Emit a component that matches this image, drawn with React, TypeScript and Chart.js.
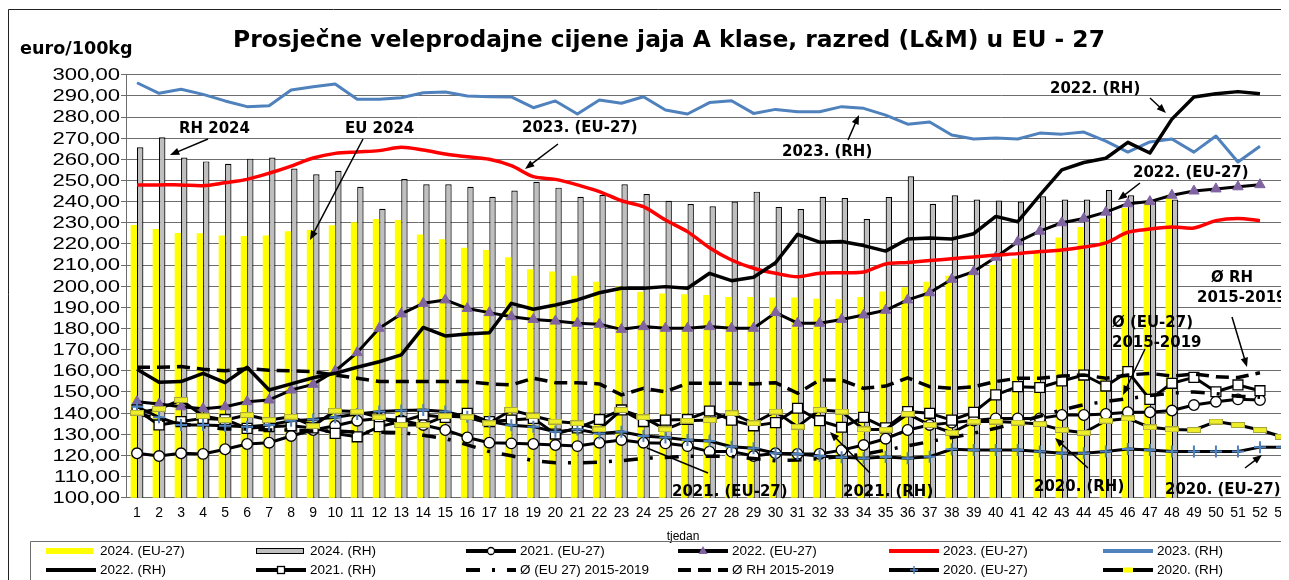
import React, { useEffect, useRef } from 'react';
import { Chart, registerables } from 'chart.js';
Chart.register(...registerables);

const weeks = ['1','2','3','4','5','6','7','8','9','10','11','12','13','14','15','16','17','18','19','20','21','22','23','24','25','26','27','28','29','30','31','32','33','34','35','36','37','38','39','40','41','42','43','44','45','46','47','48','49','50','51','52','53'];

const eu2024 = [228.9,227,225.2,225,224,223.7,224,226,226.6,228.8,230.2,231.8,231.3,224.5,222.2,218.2,217.1,213.7,208,206.9,205,202.1,199.8,197.4,196.6,196.2,195.8,194.9,194.9,194.6,194.6,194.1,193.8,194.9,197.5,199.5,202.1,205,207,210,213,217,223,228,232,237,240,243,null,null,null,null,null];
const rh2024 = [265.7,270.4,260.8,259,257.9,260.3,260.8,255.6,252.9,254.6,247,236.6,250.7,248.2,248.2,247,242.3,245.2,249.4,246.6,242.3,243.1,248.2,243.6,240.4,238.9,237.8,240,244.7,237.5,236.5,242.3,241.7,231.8,242.2,252,239,243,241,240.5,240,242.5,241,241,245.5,243,241,241,null,null,null,null,null];
const rh2023 = [296.2,291.2,293.1,290.7,287.6,284.9,285.3,292.8,294.3,295.6,288.4,288.4,289.1,291.5,291.8,289.9,289.6,289.5,284.4,287.6,281.4,288,286.5,289.6,283.3,281.4,286.8,287.7,281.7,283.6,282.5,282.5,284.9,284.1,280.9,276.6,277.6,271.5,269.6,270.1,269.6,272.4,271.9,272.9,268.6,263.4,268.2,269.6,263.4,271,258.7,266.2,null];
const eu2023 = [247.9,247.9,247.9,247.5,248.9,250.5,253.4,256.8,260.6,262.8,263.5,264.1,265.7,264.4,262.5,261.2,260,257,251.8,250.5,247.9,244.7,240.4,237.6,231.3,225.8,218.2,212.4,208.5,206.1,204.5,206.1,206.4,206.7,210.5,211.2,212.1,213,213.8,214.7,215.4,216.4,217.1,218.5,220.5,225.5,227,228,227.5,231,232,231,null];
const rh2022 = [160.7,154.6,154.9,158.8,154.4,161.7,150.9,153.8,156.7,158.8,161.7,164.3,167.5,180.5,176.5,177.4,178,191.9,189.1,191.1,193.5,196.9,199,199,199.8,199,206.1,202.6,204.2,211.1,224.5,220.8,221.1,219.2,216.6,222.3,222.8,222.3,224.8,233,230.5,243,255,258.5,260.5,268,263,279,289.5,291,292,291,null];
const eu2022 = [145.4,144.3,143,142.1,143,145.4,146.2,150.9,153.6,159.9,168.6,180.1,186.9,191.9,193.5,189.5,187.5,185.6,184.3,183.5,182.5,182,179.6,180.9,180.1,180.1,180.9,180.1,180.1,187.5,182.5,182.5,184.3,186.4,188.6,193.5,196.9,203.3,206.9,213.7,221,226,230,232,235,239,240,243,245,246,247,248,null];
const eu2021 = [121,119.7,121,120.7,122.9,125.4,126,129.2,132,134,136.4,137.5,136.5,134.4,132,128.5,126,125.7,125.4,124.9,124.4,126,127.3,126,125.7,124.4,121.8,121.8,119.7,121,120.7,120.7,122.5,124.9,127.9,132,134.4,135.5,136.5,137.5,137.5,137.5,139.1,139.1,139.6,140.4,140.4,141.2,143.8,145.4,146.5,146.2,null];
const rh2021 = [141.5,134.4,136,137.5,137,132.8,133.6,134,133,130.4,128.8,133.6,136,139.1,138,139.9,136,136.7,137.5,130.1,133,137,141.5,136,136.7,137,141,136.7,134,135.5,142.3,136.4,133.3,138,133,140.7,139.9,136.7,140.4,148.6,152.5,152.1,155.2,158,152.8,159.6,146.5,154.1,156.9,150.1,153.3,150.6,null];
const avgEu1519 = [140,137,135,133.5,132.5,132.5,132,132,131.5,131.5,131,131,130.8,129.5,128,125,121.8,119.8,117.5,116.5,116.5,116.8,117.5,118.6,119,119.6,119.6,119.5,118.5,117.5,117.8,118.5,119.5,120.5,122.5,124.5,126.5,128.5,130.5,132.8,135.5,138.5,141.5,144,145.5,146.8,148.3,149.5,150,149.2,148,147.5,null];
const avgRh1519 = [161.7,161.7,162,160.7,160,161,160.3,160,159.6,158,156.5,154.9,154.9,154.9,154.9,154.9,153.8,153.3,156.5,154.4,154.4,153.8,148.6,151.7,150.1,154.1,154.1,154.1,153.8,154.4,149.4,155.6,155.6,151.7,152.8,156.7,152.5,151.7,152.5,154.9,156.5,156.5,157.5,158,156.5,158,158.8,157.5,158.5,157.2,156.8,159.1,null];
const eu2020 = [143,138,134.4,134.4,134,133.6,134.4,136.4,137,138,139.6,140.7,141.2,141.5,140.7,138.3,136,134.2,133.6,131.2,132.3,130.4,131.2,129.2,128.5,127.3,126.8,124.1,123.4,121,120.7,119.7,119.1,118.6,119.2,118.6,119.4,122.9,122.5,122.5,122.5,121.8,121,121,121.8,123,122.5,121.8,121.8,121.8,121.8,123.9,123.9];
const rh2020 = [140.2,142,146.2,138.6,136.7,139.1,136.7,138.3,133.9,141.1,140.7,138,134.4,134.4,138.6,138,135.2,141.5,138.6,136,135.2,132.3,141.5,138,132.3,136.4,136.7,139.9,135.2,140.7,133.6,141.5,140.7,132.3,132.2,139.6,134.4,130.7,136,136,135.5,134.8,132,130.7,136.4,137.5,133.3,132.3,132,136,134.4,132,128.8];

const TITLE = 'Prosječne veleprodajne cijene jaja A klase, razred (L&M) u EU - 27';
const Y_UNIT = 'euro/100kg';
const X_TITLE = 'tjedan';

// page -> canvas offset (body margin)
const OX = 8, OY = 8;

const BLUE = '#4F81BD';
const RED = '#FF0000';
const PURPLE = '#8064A2';
const YELLOW = '#FFFF00';
const GRAY = '#BFBFBF';
const DASH_EU = [14, 12, 3, 12];
const DASH_RH = [13, 7];

const LEGEND_ITEMS = [
  { label: '2024. (EU-27)', kind: 'box', fill: YELLOW },
  { label: '2024. (RH)', kind: 'box', fill: GRAY, stroke: '#000' },
  { label: '2021. (EU-27)', kind: 'line', color: '#000', marker: 'circle' },
  { label: '2022. (EU-27)', kind: 'line', color: '#000', marker: 'triangle' },
  { label: '2023. (EU-27)', kind: 'line', color: RED },
  { label: '2023. (RH)', kind: 'line', color: BLUE },
  { label: '2022. (RH)', kind: 'line', color: '#000' },
  { label: '2021. (RH)', kind: 'line', color: '#000', marker: 'rect' },
  { label: 'Ø (EU 27) 2015-2019', kind: 'line', color: '#000', dash: DASH_EU },
  { label: 'Ø RH 2015-2019', kind: 'line', color: '#000', dash: DASH_RH },
  { label: '2020. (EU-27)', kind: 'line', color: '#000', marker: 'cross' },
  { label: '2020. (RH)', kind: 'line', color: '#000', marker: 'ydash' },
];

function makeYDash(): HTMLCanvasElement {
  const c = document.createElement('canvas');
  c.width = 14; c.height = 6;
  const g = c.getContext('2d')!;
  g.fillStyle = '#EDED2A';
  g.fillRect(0, 0, 14, 6);
  g.strokeStyle = '#A6A63A';
  g.lineWidth = 1;
  g.strokeRect(0.5, 0.5, 13, 5);
  return c;
}

function txt(ctx: CanvasRenderingContext2D, s: string, x: number, y: number, font: string, align: CanvasTextAlign = 'left', sx = 1, base: CanvasTextBaseline = 'alphabetic') {
  ctx.save();
  ctx.font = font;
  ctx.fillStyle = '#000';
  ctx.textAlign = align;
  ctx.textBaseline = base;
  ctx.translate(x - OX, y - OY);
  ctx.scale(sx, 1);
  ctx.fillText(s, 0, 0);
  ctx.restore();
}

function arrow(ctx: CanvasRenderingContext2D, x1: number, y1: number, x2: number, y2: number, head = true) {
  const a = x1 - OX, b = y1 - OY, c = x2 - OX, d = y2 - OY;
  ctx.save();
  ctx.strokeStyle = '#000';
  ctx.fillStyle = '#000';
  ctx.lineWidth = 1.5;
  const ang = Math.atan2(d - b, c - a);
  const hl = 10;
  const ex = head ? c - Math.cos(ang) * hl * 0.8 : c;
  const ey = head ? d - Math.sin(ang) * hl * 0.8 : d;
  ctx.beginPath(); ctx.moveTo(a, b); ctx.lineTo(ex, ey); ctx.stroke();
  if (head) {
    ctx.beginPath();
    ctx.moveTo(c, d);
    ctx.lineTo(c - hl * Math.cos(ang - 0.38), d - hl * Math.sin(ang - 0.38));
    ctx.lineTo(c - hl * Math.cos(ang + 0.38), d - hl * Math.sin(ang + 0.38));
    ctx.closePath(); ctx.fill();
  }
  ctx.restore();
}

const ANN_FONT = 'bold 15.5px "DejaVu Sans"';
const ANN_SX = 0.965;
const ann = (ctx: CanvasRenderingContext2D, s: string, x: number, y: number) => txt(ctx, s, x, y, ANN_FONT, 'left', ANN_SX);

const decorPlugin = {
  id: 'decor',
  afterDraw(chart: any) {
    const ctx: CanvasRenderingContext2D = chart.ctx;
    const yS = chart.scales.y;
    // frame
    ctx.save();
    ctx.strokeStyle = '#222';
    ctx.lineWidth = 1;
    ctx.beginPath();
    ctx.moveTo(0.5, 572); ctx.lineTo(0.5, 1.5); ctx.lineTo(1300, 1.5);
    ctx.stroke();
    ctx.restore();
    // title
    txt(ctx, TITLE, 669, 46.7, 'bold 23.4px "DejaVu Sans"', 'center');
    txt(ctx, Y_UNIT, 20, 54, 'bold 17.6px "DejaVu Sans"', 'left');
    // y tick labels
    (yS.ticks || []).forEach((t: any) => {
      const yy = yS.getPixelForValue(t.value) + OY;
      txt(ctx, t.value.toFixed(2).replace('.', ','), 120, yy + 1, '16px "Liberation Sans"', 'right', 1.38, 'middle');
    });
    txt(ctx, X_TITLE, 683, 537, '12px "Liberation Sans"', 'center', 1, 'middle');

    // annotations
    ann(ctx, 'RH 2024', 179, 132.7); arrow(ctx, 208, 139, 170, 155);
    ann(ctx, 'EU 2024', 345, 132.7); arrow(ctx, 363, 139, 310, 240);
    ann(ctx, '2023. (EU-27)', 522, 131.7); arrow(ctx, 558, 144, 525, 169);
    ann(ctx, '2023. (RH)', 782, 155.7); arrow(ctx, 848, 140, 859, 115);
    ann(ctx, '2022. (RH)', 1050, 93); arrow(ctx, 1150, 98, 1166, 113);
    ann(ctx, '2022. (EU-27)', 1133, 177); arrow(ctx, 1140, 183, 1118, 200);
    ann(ctx, 'Ø RH', 1211, 281.7); ann(ctx, '2015-2019', 1197, 301.7); arrow(ctx, 1232, 317, 1247, 367);
    ann(ctx, 'Ø (EU-27)', 1112, 327.3); ann(ctx, '2015-2019', 1112, 346.7); arrow(ctx, 1145, 349, 1123, 395);
    ann(ctx, '2021. (EU-27)', 672, 495.7); arrow(ctx, 708, 473, 647, 448, false);
    ann(ctx, '2021. (RH)', 843, 495.7); arrow(ctx, 870, 473, 830, 432);
    ann(ctx, '2020. (RH)', 1034, 490.7); arrow(ctx, 1088, 468, 1055, 438);
    ann(ctx, '2020. (EU-27)', 1165, 494); arrow(ctx, 1245, 468, 1262, 455);

    // legend box
    ctx.save();
    ctx.strokeStyle = '#6d6d6d';
    ctx.lineWidth = 1;
    ctx.beginPath();
    ctx.moveTo(30 - OX + 0.5, 600); ctx.lineTo(30 - OX + 0.5, 541 - OY + 0.5); ctx.lineTo(1300, 541 - OY + 0.5);
    ctx.stroke();
    ctx.restore();

    const colX = [100, 310, 520, 732, 943, 1157];
    const rowY = [551, 570];
    LEGEND_ITEMS.forEach((it: any, i: number) => {
      const col = i % 6, row = Math.floor(i / 6);
      const tx = colX[col], ty = rowY[row];
      const x0 = tx - 54 - OX, x1 = tx - 4 - OX, yc = ty - OY;
      ctx.save();
      if (it.kind === 'box') {
        ctx.fillStyle = it.fill;
        ctx.fillRect(x0, yc - 3, x1 - x0 - 3, 6);
        if (it.stroke) { ctx.strokeStyle = it.stroke; ctx.lineWidth = 1; ctx.strokeRect(x0 + 0.5, yc - 2.5, x1 - x0 - 3, 5); }
      } else {
        ctx.strokeStyle = it.color;
        ctx.lineWidth = 4;
        ctx.setLineDash(it.dash || []);
        ctx.beginPath(); ctx.moveTo(x0, yc); ctx.lineTo(x1, yc); ctx.stroke();
        ctx.setLineDash([]);
        const mx = (x0 + x1) / 2;
        if (it.marker === 'circle') {
          ctx.fillStyle = '#fff'; ctx.strokeStyle = '#000'; ctx.lineWidth = 1.3;
          ctx.beginPath(); ctx.arc(mx, yc, 3.5, 0, Math.PI * 2); ctx.fill(); ctx.stroke();
        } else if (it.marker === 'rect') {
          ctx.fillStyle = '#fff'; ctx.strokeStyle = '#000'; ctx.lineWidth = 1.3;
          ctx.fillRect(mx - 3.5, yc - 3.5, 7, 7); ctx.strokeRect(mx - 3.5, yc - 3.5, 7, 7);
        } else if (it.marker === 'triangle') {
          ctx.fillStyle = PURPLE;
          ctx.beginPath(); ctx.moveTo(mx, yc - 5); ctx.lineTo(mx + 4.5, yc + 3); ctx.lineTo(mx - 4.5, yc + 3); ctx.closePath(); ctx.fill();
        } else if (it.marker === 'cross') {
          ctx.strokeStyle = BLUE; ctx.lineWidth = 1.5;
          ctx.beginPath(); ctx.moveTo(mx - 4, yc); ctx.lineTo(mx + 4, yc); ctx.moveTo(mx, yc - 4); ctx.lineTo(mx, yc + 4); ctx.stroke();
        } else if (it.marker === 'ydash') {
          ctx.fillStyle = YELLOW; ctx.fillRect(mx - 5, yc - 2.5, 10, 5);
        }
      }
      ctx.restore();
      txt(ctx, it.label, tx, ty + 0.5, '13.5px "Liberation Sans"', 'left', 1, 'middle');
    });
  },
};

export default function App() {
  const ref = useRef<HTMLCanvasElement>(null);
  useEffect(() => {
    const ydash = makeYDash();
    const line = (label: string, data: any[], color: string, width: number, extra: any = {}) => ({
      type: 'line', label, data, borderColor: color, borderWidth: width, pointRadius: 0,
      tension: 0, fill: false, borderJoinStyle: 'round', spanGaps: false, ...extra,
    });
    const chart = new Chart(ref.current!, {
      type: 'bar',
      data: {
        labels: weeks,
        datasets: [
          line('2020. (RH)', rh2020, '#000', 3, { pointStyle: ydash, pointRadius: 6 }),
          line('2020. (EU-27)', eu2020, '#000', 3, { pointStyle: 'cross', pointRadius: 6, pointBorderColor: BLUE, pointBorderWidth: 2 }),
          line('Ø RH 2015-2019', avgRh1519, '#000', 3.5, { borderDash: DASH_RH, borderCapStyle: 'butt' }),
          line('Ø (EU 27) 2015-2019', avgEu1519, '#000', 3.5, { borderDash: DASH_EU, borderCapStyle: 'butt' }),
          line('2021. (RH)', rh2021, '#000', 3, { pointStyle: 'rect', pointRadius: 7, pointBackgroundColor: '#fff', pointBorderColor: '#000', pointBorderWidth: 1.3 }),
          line('2022. (RH)', rh2022, '#000', 3.5),
          line('2023. (RH)', rh2023, BLUE, 3),
          line('2023. (EU-27)', eu2023, RED, 3.5, { tension: 0.3 }),
          line('2022. (EU-27)', eu2022, '#000', 3, { pointStyle: 'triangle', pointRadius: 6, pointBackgroundColor: PURPLE, pointBorderColor: PURPLE, pointBorderWidth: 1 }),
          line('2021. (EU-27)', eu2021, '#000', 3, { pointStyle: 'circle', pointRadius: 5.3, pointBackgroundColor: '#fff', pointBorderColor: '#000', pointBorderWidth: 1.3 }),
          { type: 'bar', label: '2024. (EU-27)', data: eu2024, backgroundColor: YELLOW, borderWidth: 0, categoryPercentage: 0.58, barPercentage: 1 },
          { type: 'bar', label: '2024. (RH)', data: rh2024, backgroundColor: GRAY, borderColor: '#000', borderWidth: 1.2, categoryPercentage: 0.58, barPercentage: 1 },
        ] as any,
      },
      options: {
        responsive: false,
        animation: false,
        events: [],
        layout: { padding: { top: 66.7, right: 15, left: 0, bottom: 0 } },
        plugins: { legend: { display: false }, title: { display: false }, tooltip: { enabled: false } },
        scales: {
          x: {
            type: 'category',
            offset: true,
            grid: { display: false, drawTicks: false },
            border: { display: true, color: '#6d6d6d', width: 1 },
            ticks: { font: { family: 'Liberation Sans', size: 14 }, color: '#000', padding: 7, autoSkip: false, maxRotation: 0 },
            afterFit: (s: any) => { s.height = 82.3; },
          },
          y: {
            min: 100, max: 300,
            ticks: { stepSize: 10, display: false },
            grid: { color: '#6d6d6d', lineWidth: 1, tickLength: 5, drawTicks: true },
            border: { display: true, color: '#6d6d6d', width: 1 },
            afterFit: (s: any) => { s.width = 118; },
          },
        },
      } as any,
      plugins: [decorPlugin],
    });
    return () => chart.destroy();
  }, []);
  return (
    <div style={{ width: 1281, height: 572, overflow: 'hidden' }}>
      <canvas ref={ref} width={1300} height={572} style={{ width: '1300px', height: '572px', display: 'block' }} />
    </div>
  );
}
